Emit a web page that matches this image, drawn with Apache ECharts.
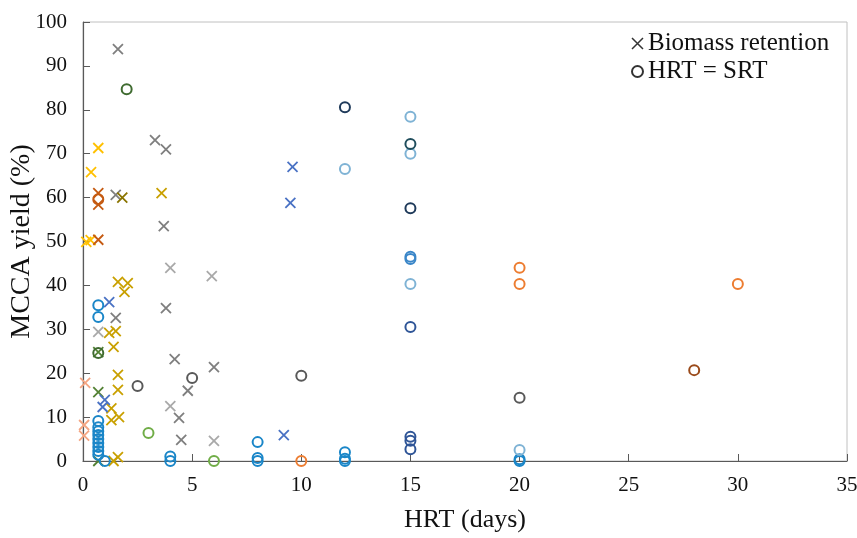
<!DOCTYPE html>
<html>
<head>
<meta charset="utf-8">
<script src="https://cdn.jsdelivr.net/npm/echarts@6/dist/echarts.min.js"></script>
<style>
  html, body { margin: 0; padding: 0; background: #fff; }
  #chart { width: 857px; height: 538px; }
</style>
</head>
<body>
<div id="chart"></div>
<script>
// x ticks / y ticks
var xTicks = [0, 5, 10, 15, 20, 25, 30, 35];
var yTicks = [0, 10, 20, 30, 40, 50, 60, 70, 80, 90, 100];

// Biomass retention (crosses), [HRT, yield]
var grayCross = [[1.6, 93.8], [3.3, 73.1], [3.8, 71], [1.5, 60.6], [3.7, 53.5], [3.8, 34.8],
  [1.5, 32.6], [4.2, 23.2], [6.0, 21.4], [4.8, 16], [4.4, 9.8], [4.5, 4.8]];
var lightGrayCross = [[4.0, 44], [5.9, 42.1], [4.0, 12.5], [6.0, 4.6], [0.7, 29.4]];
var goldCross = [[3.6, 61], [1.6, 40.8], [2.05, 40.5], [1.9, 38.5], [1.2, 29.2], [1.5, 29.6],
  [1.4, 26], [1.6, 19.6], [1.6, 16.2], [1.3, 12], [1.3, 9.3], [1.65, 10], [1.6, 0.9], [1.4, 0]];
var oliveCross = [[1.8, 60]];
var yellowCross = [[0.7, 71.3], [0.37, 65.8], [0.15, 49.9], [0.35, 50.3]];
var darkOrangeCross = [[0.7, 61], [0.7, 58.4], [0.7, 50.4]];
var salmonCross = [[0.1, 17.8], [0.05, 8.2], [0.05, 5.8]];
var greenCross = [[0.7, 24.8], [0.7, 15.7], [0.7, 0]];
var steelCross = [[1.2, 36.2], [1.0, 13.9], [0.9, 12.3], [9.2, 5.9], [9.6, 67], [9.5, 58.8]];

// HRT = SRT (circles)
var blueCircle = [[0.7, 35.5], [0.7, 32.8], [0.7, 9.1], [0.7, 7.7], [0.7, 6.8], [0.7, 5.9],
  [0.7, 5.0], [0.7, 4.1], [0.7, 3.2], [0.7, 2.3], [0.7, 1.4], [1.0, 0],
  [4, 1.0], [4, 0], [8, 4.3], [8, 0.7], [8, 0], [12, 2.0], [12, 0.5], [12, 0], [20, 0.4], [20, 0]];
var lightBlueCircle = [[15, 78.4], [15, 70], [15, 40.3], [12, 66.5], [20, 2.5]];
var navyCircle = [[12, 80.6], [15, 57.6]];
var tealCircle = [[15, 72.2]];
var midBlueCircle = [[15, 46.5], [15, 46]];
var darkBlueCircle = [[15, 30.5], [15, 5.5], [15, 4.6], [15, 2.7]];
var orangeCircle = [[20, 44], [20, 40.3], [30, 40.3], [10, 0]];
var brownCircle = [[28, 20.7]];
var darkGrayCircle = [[2.5, 17.1], [5.0, 18.9], [10, 19.4], [20, 14.4]];
var greenCircle = [[3, 6.4], [6, 0]];
var darkGreenCircle = [[2.0, 84.7], [0.7, 24.6]];
var darkOrangeCircle = [[0.7, 59.6]];

var crossPath = 'path://M0,0L10,10M10,0L0,10';
var serif = '"Liberation Serif", "DejaVu Serif", serif';

function crosses(data, color) {
  return {
    type: 'scatter', data: data, symbol: crossPath, symbolSize: 10, clip: false,
    itemStyle: { color: 'transparent', borderColor: color, borderWidth: 1.8, opacity: 1 },
    emphasis: { disabled: true }, z: 3
  };
}
function circles(data, color) {
  return {
    type: 'scatter', data: data, symbol: 'circle', symbolSize: 10, clip: false,
    itemStyle: { color: 'transparent', borderColor: color, borderWidth: 2, opacity: 1 },
    emphasis: { disabled: true }, z: 3
  };
}

var series = [
  crosses(grayCross, '#7f7f7f'),
  crosses(lightGrayCross, '#a9a9a9'),
  crosses(goldCross, '#c9a000'),
  crosses(oliveCross, '#8a7400'),
  crosses(yellowCross, '#ffc000'),
  crosses(darkOrangeCross, '#c55a11'),
  crosses(salmonCross, '#f4a582'),
  crosses(greenCross, '#548235'),
  crosses(steelCross, '#4a72c4'),
  circles(blueCircle, '#1a86c8'),
  circles(lightBlueCircle, '#7fb3d5'),
  circles(navyCircle, '#1f3a5a'),
  circles(tealCircle, '#1f4d5c'),
  circles(midBlueCircle, '#3a86c8'),
  circles(darkBlueCircle, '#2f5597'),
  circles(orangeCircle, '#ed7d31'),
  circles(brownCircle, '#9a4a1a'),
  circles(darkGrayCircle, '#595959'),
  circles(greenCircle, '#70ad47'),
  circles(darkGreenCircle, '#3f6b30'),
  circles(darkOrangeCircle, '#c55a11'),
  { name: 'Biomass retention', type: 'scatter', data: [], symbol: crossPath,
    itemStyle: { color: 'transparent', borderColor: '#000', borderWidth: 1.5 } },
  { name: 'HRT = SRT', type: 'scatter', data: [], symbol: 'circle',
    itemStyle: { color: 'transparent', borderColor: '#000', borderWidth: 2 } }
];

var chart = echarts.init(document.getElementById('chart'));
chart.setOption({
  animation: false,
  backgroundColor: '#fff',
  grid: { left: 83, right: 10, top: 22, bottom: 77, show: true, borderColor: '#c0c0c0', borderWidth: 1,
    outerBoundsMode: 'none', containLabel: false },
  legend: {
    orient: 'vertical', left: 626, top: 26, itemWidth: 11, itemHeight: 11, itemGap: 3,
    textStyle: { fontFamily: serif, fontSize: 25, color: '#111' },
    data: [
      { name: 'Biomass retention', icon: crossPath,
        itemStyle: { color: 'transparent', borderColor: '#000', borderWidth: 1.5 } },
      { name: 'HRT = SRT', icon: 'circle',
        itemStyle: { color: 'transparent', borderColor: '#000', borderWidth: 2 } }
    ]
  },
  xAxis: {
    type: 'value', min: xTicks[0], max: xTicks[xTicks.length - 1], interval: 5,
    name: 'HRT (days)', nameLocation: 'middle', nameGap: 46, nameMoveOverlap: false,
    nameTextStyle: { fontFamily: serif, fontSize: 26, color: '#111' },
    axisLine: { show: true, lineStyle: { color: '#595959', width: 1.2 } },
    axisTick: { show: true, inside: true, length: 7, lineStyle: { color: '#595959' } },
    axisLabel: { fontFamily: serif, fontSize: 21, color: '#111', margin: 14 },
    splitLine: { show: false }
  },
  yAxis: {
    type: 'value', min: yTicks[0], max: yTicks[yTicks.length - 1], interval: 10,
    name: 'MCCA yield (%)', nameLocation: 'middle', nameGap: 47, nameMoveOverlap: false,
    nameTextStyle: { fontFamily: serif, fontSize: 28, color: '#111' },
    axisLine: { show: true, lineStyle: { color: '#595959', width: 1.2 } },
    axisTick: { show: true, inside: true, length: 7, lineStyle: { color: '#595959' } },
    axisLabel: { fontFamily: serif, fontSize: 21, color: '#111', margin: 16 },
    splitLine: { show: false }
  },
  series: series
});
</script>
</body>
</html>
